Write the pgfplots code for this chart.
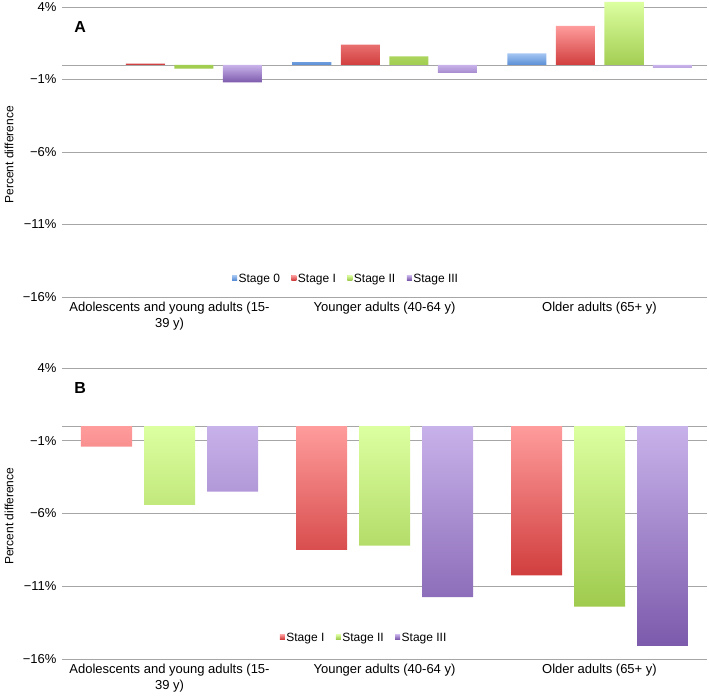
\documentclass[border=0pt]{standalone}
\usepackage{pgfplots}
\pgfplotsset{compat=1.18}
\usepackage{fontspec}
\setmainfont{Liberation Sans}

\definecolor{s0t}{HTML}{A4C6F2}
\definecolor{s0b}{HTML}{5A8ED6}
\definecolor{s1t}{HTML}{FF9C9C}
\definecolor{s1b}{HTML}{D13E3E}
\definecolor{s2t}{HTML}{DCFFA0}
\definecolor{s2b}{HTML}{9FCB4E}
\definecolor{s3t}{HTML}{C8B2EA}
\definecolor{s3b}{HTML}{7C5AAC}
\definecolor{gridc}{HTML}{A6A6A6}

\pgfplotsset{
  s0/.style={draw=none, top color=s0t, bottom color=s0b,
    legend image code/.code={\fill[s0b!80] (0bp,-1.0bp) rectangle (5bp,3.6bp);}},
  s1/.style={draw=none, top color=s1t, bottom color=s1b,
    legend image code/.code={\fill[s1b!80] (0bp,-1.0bp) rectangle (5bp,3.6bp);}},
  s2/.style={draw=none, top color=s2t, bottom color=s2b,
    legend image code/.code={\fill[s2b!80] (0bp,-1.0bp) rectangle (5bp,3.6bp);}},
  s3/.style={draw=none, top color=s3t, bottom color=s3b,
    legend image code/.code={\fill[s3b!80] (0bp,-1.0bp) rectangle (5bp,3.6bp);}},
  panel/.style={
    width=645bp, scale only axis, anchor=south west,
    xmin=-0.5, xmax=2.5, ymin=-16, ymax=4,
    xtick={0,1,2},
    xticklabels={{Adolescents and young adults (15-\\39 y)}, {Younger adults (40-64 y)}, {Older adults (65+ y)}},
    ytick={-16,-11,-6,-1,4},
    yticklabels={−16\%,−11\%,−6\%,−1\%,4\%},
    extra y ticks={0}, extra y tick labels={},
    extra y tick style={grid=major},
    ymajorgrids,
    grid style={gridc, line width=0.9bp},
    axis line style={draw=none},
    major tick length=0pt,
    tick label style={font=\fontsize{13bp}{16bp}\selectfont},
    xticklabel style={align=center, yshift=-2bp},
    yticklabel style={xshift=-2bp},
    ylabel={Percent difference},
    ylabel style={at={(axis description cs:-0.082,0.49)}, anchor=center,
      font=\fontsize{12bp}{14bp}\selectfont},
    legend style={draw=none, fill=none, legend columns=-1, anchor=center,
      font=\fontsize{12bp}{14bp}\selectfont,
      nodes={inner sep=1.5bp},
      /tikz/every even column/.append style={column sep=10bp}},
    clip=false,
  },
}

\begin{document}
\begin{tikzpicture}
\useasboundingbox (0,0) rectangle (709bp,698bp);

% panel A
\begin{axis}[panel, at={(62bp,401bp)}, height=290bp,
  ybar=9.5bp, bar width=39bp,
  legend style={at={(axis description cs:0.44,0.062)}}]
\addplot[s0] coordinates {(1,0.2) (2,0.8)};
\addplot[s1] coordinates {(0,0.1) (1,1.4) (2,2.7)};
\addplot[s2] coordinates {(0,-0.25) (1,0.6) (2,4.35)};
\addplot[s3] coordinates {(0,-1.2) (1,-0.55) (2,-0.2)};
\legend{Stage 0, Stage I, Stage II, Stage III}
\node[font=\bfseries\fontsize{16bp}{18bp}\selectfont] at (axis description cs:0.028,0.931) {A};
\end{axis}

% panel B
\begin{axis}[panel, at={(62bp,39bp)}, height=291bp,
  ybar=12bp, bar width=51bp,
  legend style={at={(axis description cs:0.468,0.072)}}]
\addplot[s1] coordinates {(0,-1.4) (1,-8.5) (2,-10.25)};
\addplot[s2] coordinates {(0,-5.4) (1,-8.2) (2,-12.4)};
\addplot[s3] coordinates {(0,-4.5) (1,-11.75) (2,-15.1)};
\legend{Stage I, Stage II, Stage III}
\node[font=\bfseries\fontsize{16bp}{18bp}\selectfont] at (axis description cs:0.028,0.931) {B};
\end{axis}
\end{tikzpicture}
\end{document}
